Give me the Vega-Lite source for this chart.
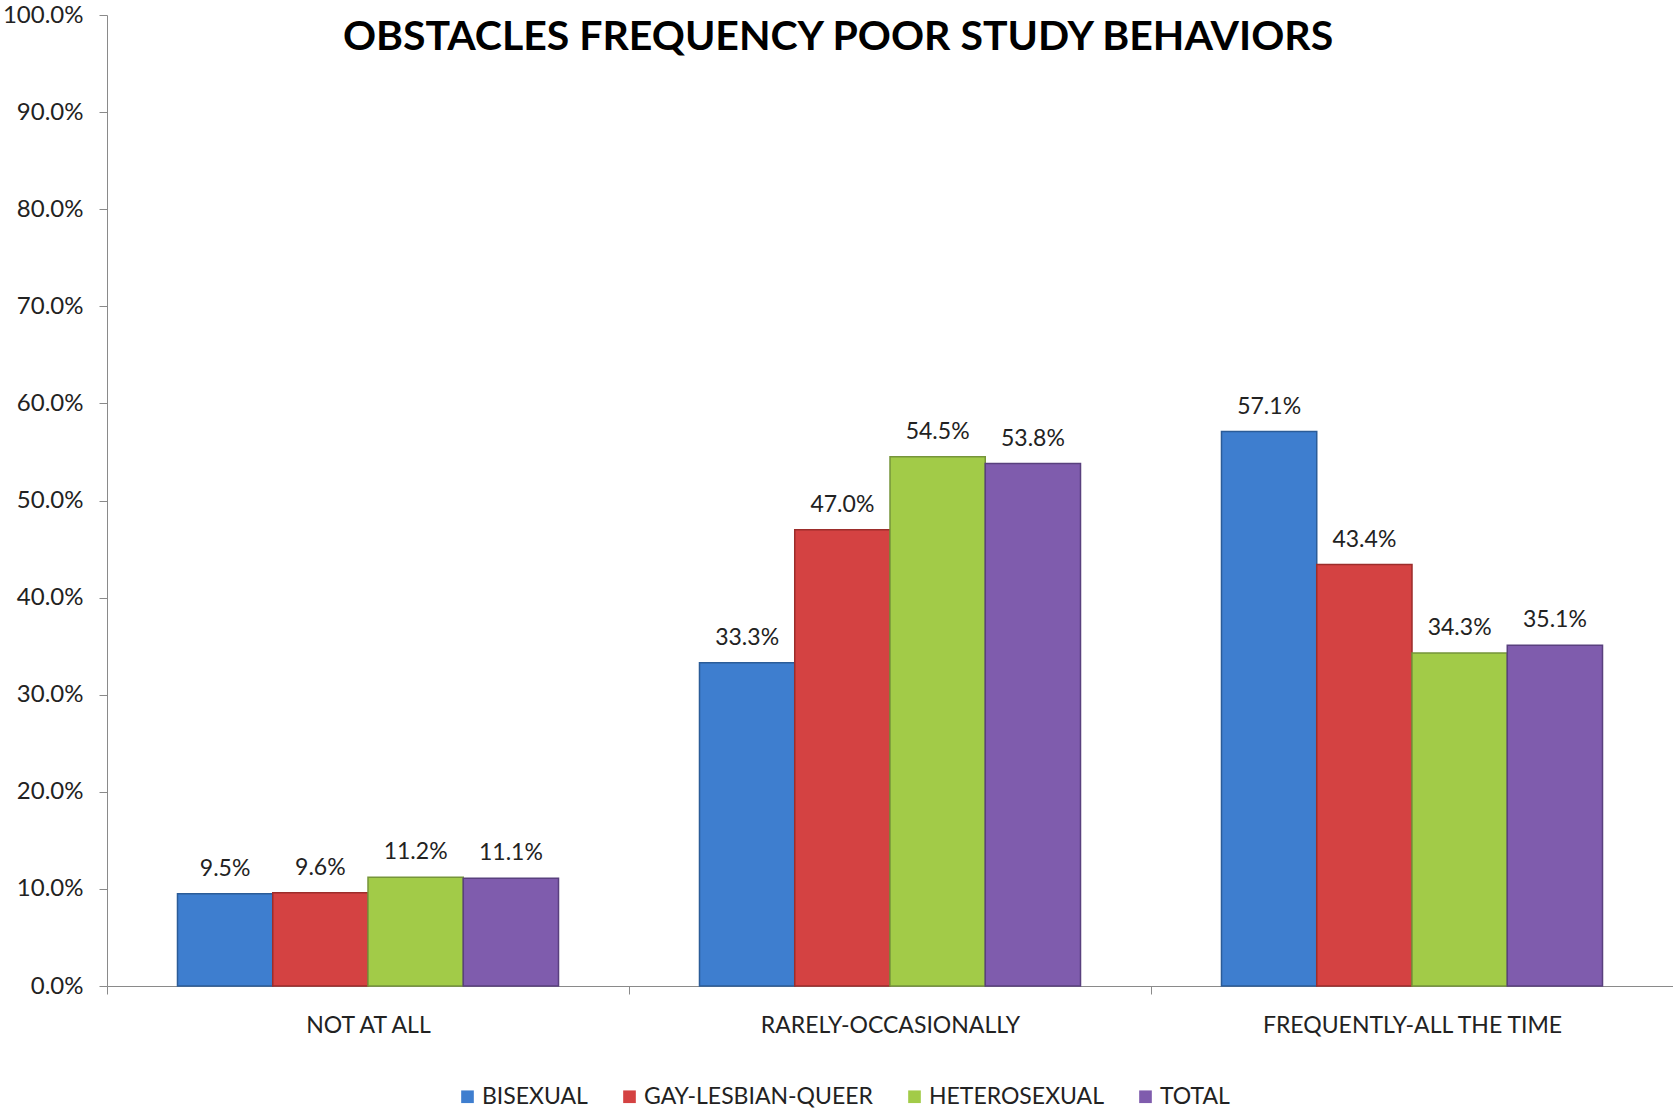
{
  "$schema": "https://vega.github.io/schema/vega-lite/v6.json",
  "autosize": {"type": "none"},
  "width": 1566,
  "height": 971,
  "padding": {"left": 107, "top": 15, "right": 0, "bottom": 125},
  "background": "white",
  "config": {"view": {"stroke": null}, "font": "Lato"},
  "title": {
    "text": "OBSTACLES FREQUENCY POOR STUDY BEHAVIORS",
    "font": "Lato",
    "fontSize": 41,
    "fontWeight": "bold",
    "color": "#000000",
    "anchor": "middle",
    "frame": "group",
    "dx": -52,
    "offset": -56
  },
  "data": {
    "values": [
      {"category": "NOT AT ALL", "group": "BISEXUAL", "value": 0.095},
      {"category": "NOT AT ALL", "group": "GAY-LESBIAN-QUEER", "value": 0.096},
      {"category": "NOT AT ALL", "group": "HETEROSEXUAL", "value": 0.112},
      {"category": "NOT AT ALL", "group": "TOTAL", "value": 0.111},
      {"category": "RARELY-OCCASIONALLY", "group": "BISEXUAL", "value": 0.333},
      {"category": "RARELY-OCCASIONALLY", "group": "GAY-LESBIAN-QUEER", "value": 0.470},
      {"category": "RARELY-OCCASIONALLY", "group": "HETEROSEXUAL", "value": 0.545},
      {"category": "RARELY-OCCASIONALLY", "group": "TOTAL", "value": 0.538},
      {"category": "FREQUENTLY-ALL THE TIME", "group": "BISEXUAL", "value": 0.571},
      {"category": "FREQUENTLY-ALL THE TIME", "group": "GAY-LESBIAN-QUEER", "value": 0.434},
      {"category": "FREQUENTLY-ALL THE TIME", "group": "HETEROSEXUAL", "value": 0.343},
      {"category": "FREQUENTLY-ALL THE TIME", "group": "TOTAL", "value": 0.351}
    ]
  },
  "encoding": {
    "x": {
      "field": "category",
      "type": "nominal",
      "sort": ["NOT AT ALL", "RARELY-OCCASIONALLY", "FREQUENTLY-ALL THE TIME"],
      "scale": {"paddingInner": 0, "paddingOuter": 0},
      "axis": {
        "title": null,
        "labelAngle": 0,
        "labelFontSize": 23,
        "labelLimit": 0,
        "labelColor": "#222222",
        "labelFont": "Lato",
        "domainColor": "#8a8a8a",
        "tickColor": "#8a8a8a",
        "tickSize": 8,
        "tickBand": "extent",
        "labelPadding": 20,
        "grid": false
      }
    },
    "xOffset": {
      "field": "group",
      "type": "nominal",
      "sort": ["BISEXUAL", "GAY-LESBIAN-QUEER", "HETEROSEXUAL", "TOTAL"],
      "scale": {"paddingInner": 0, "paddingOuter": 0.74}
    },
    "y": {
      "field": "value",
      "type": "quantitative",
      "scale": {"domain": [0, 1], "nice": false},
      "axis": {
        "title": null,
        "values": [0, 0.1, 0.2, 0.3, 0.4, 0.5, 0.6, 0.7, 0.8, 0.9, 1.0],
        "format": ".1%",
        "labelFontSize": 24,
        "labelColor": "#222222",
        "labelFont": "Lato",
        "domainColor": "#8a8a8a",
        "tickColor": "#8a8a8a",
        "tickSize": 8,
        "labelPadding": 16,
        "grid": false
      }
    }
  },
  "layer": [
    {
      "mark": {"type": "bar", "strokeWidth": 1.5},
      "encoding": {
        "color": {
          "field": "group",
          "type": "nominal",
          "sort": ["BISEXUAL", "GAY-LESBIAN-QUEER", "HETEROSEXUAL", "TOTAL"],
          "scale": {"range": ["#3E7ECF", "#D44242", "#A2CB48", "#7F5CAD"]},
          "legend": {
            "title": null,
            "orient": "none",
            "direction": "horizontal",
            "legendX": 349,
            "legendY": 1070,
            "symbolType": "square",
            "symbolSize": 160,
            "symbolStrokeWidth": 0,
            "labelFontSize": 23,
            "labelLimit": 0,
            "labelFont": "Lato",
            "labelColor": "#222222",
            "columnPadding": 30,
            "labelOffset": 3
          }
        },
        "stroke": {
          "field": "group",
          "type": "nominal",
          "sort": ["BISEXUAL", "GAY-LESBIAN-QUEER", "HETEROSEXUAL", "TOTAL"],
          "scale": {"range": ["#2B5C98", "#9C2D2B", "#76953A", "#59407E"]},
          "legend": null
        }
      }
    },
    {
      "mark": {"type": "text", "baseline": "bottom", "dy": -13, "fontSize": 23, "font": "Lato", "color": "#222222"},
      "encoding": {
        "text": {"field": "value", "type": "quantitative", "format": ".1%"}
      }
    }
  ]
}
